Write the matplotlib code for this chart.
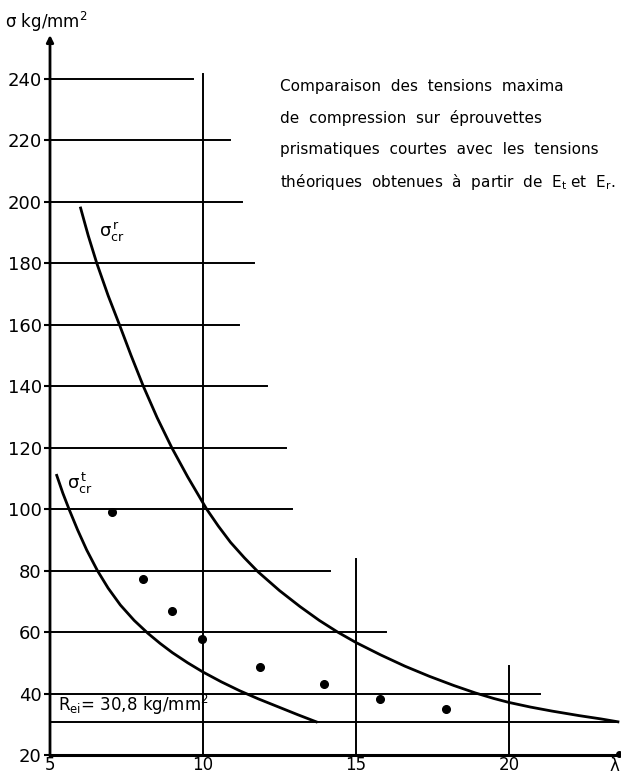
import numpy as np
import matplotlib
matplotlib.use("Agg")
import matplotlib.pyplot as plt

plt.rcParams['font.family'] = ['DejaVu Sans']
plt.rcParams['mathtext.default'] = 'regular'

# reduced modulus curve (sigma_cr^r)
lam_r = [6.0, 6.25, 6.53, 6.9, 7.27, 7.65, 8.05, 8.5, 8.98, 9.5, 10.12,
         10.5, 10.9, 11.35, 11.8, 12.5, 13.17, 13.8, 14.4, 15.0, 15.8,
         16.6, 17.4, 18.2, 18.9, 19.5, 20.0, 20.7, 21.4, 22.3, 23.0, 23.56]
sig_r = [198, 189, 180, 169.5, 160, 150.0, 140, 129.8, 120, 110.5, 100,
         94.5, 89.2, 84.2, 79.6, 73.5, 68.3, 63.8, 60, 56.6, 52.6,
         48.9, 45.6, 42.6, 40.2, 38.4, 37.1, 35.6, 34.3, 32.8, 31.75, 30.8]

# tangent modulus curve (sigma_cr^t)
lam_t = [5.22, 5.42, 5.63, 5.9, 6.2, 6.55, 6.9, 7.3, 7.75, 8.2, 8.6, 9.0,
         9.5, 10.0, 10.6, 11.2, 11.8, 12.5, 13.1, 13.7]
sig_t = [111, 105.2, 99.8, 93.3, 86.7, 80, 74.3, 68.8, 63.8, 59.6, 56.3, 53.3,
         50.0, 47.0, 43.8, 40.9, 38.3, 35.5, 33.1, 30.8]

# test results on short prismatic specimens
lam_test = [7.03, 8.04, 8.99, 9.97, 11.86, 13.95, 15.8, 17.94]
sig_test = [99.1, 77.3, 66.9, 57.7, 48.6, 43.1, 38.2, 35.0]

R_ei = 30.8

# horizontal rules: level and right end
h_levels = [240, 220, 200, 180, 160, 140, 120, 100, 80, 60, 40]
h_ends = [9.67, 10.88, 11.27, 11.67, 11.18, 12.08, 12.7, 12.9, 14.15, 15.98, 21.0]

# vertical rules: position and top
v_pos = [10, 15, 20]
v_tops = [241.6, 83.8, 49.0]

y_ticks = [20, 40, 60, 80, 100, 120, 140, 160, 180, 200, 220, 240]
x_ticks = [5, 10, 15, 20]

W, H = 621, 774
fig = plt.figure(figsize=(W / 100, H / 100), dpi=100)
ax = fig.add_axes([50 / W, 19 / H, 571 / W, 720 / H])
ax.set_xlim(5, 23.66)
ax.set_ylim(20, 254.3)

lw_grid = 1.4
for lev, end in zip(h_levels, h_ends):
    ax.plot([5, end], [lev, lev], color='black', lw=lw_grid)
ax.plot([5, lam_r[-1]], [R_ei, R_ei], color='black', lw=lw_grid)
for xp, top in zip(v_pos, v_tops):
    ax.plot([xp, xp], [20, top], color='black', lw=lw_grid)

ax.plot(lam_r, sig_r, color='black', lw=2.0, solid_joinstyle='round')
ax.plot(lam_t, sig_t, color='black', lw=2.0, solid_joinstyle='round')
ax.plot(lam_test, sig_test, 'o', color='black', ms=5.5)

# axes drawn by hand
for s in ax.spines.values():
    s.set_visible(False)
ax.annotate('', xy=(5, 254.3), xytext=(5, 19.6),
            arrowprops=dict(arrowstyle='-|>', lw=2, color='black',
                            mutation_scale=10, shrinkA=0, shrinkB=0),
            annotation_clip=False)
ax.plot([5, 23.66], [20, 20], color='black', lw=2.2, clip_on=False)
ax.plot([23.6], [20.4], 'o', color='black', ms=4, clip_on=False)

ax.set_yticks(y_ticks)
ax.set_xticks(x_ticks)
ax.tick_params(axis='y', direction='out', length=4, width=1.5, pad=2,
               labelsize=13)
ax.tick_params(axis='x', length=0, pad=1, labelsize=12)
ax.text(23.43, 19.4, 'λ', ha='center', va='top', fontsize=12)

fig.text(5 / W, 1 - 22 / H, 'σ kg/mm$^2$', fontsize=12, va='center')

ax.text(6.6, 190, r'$\sigma_{cr}^{\,r}$', fontsize=13, va='center')
ax.text(5.55, 108.5, r'$\sigma_{cr}^{\,t}$', fontsize=13, va='center')
ax.text(5.25, 36.3, 'R$_{ei}$= 30,8 kg/mm$^2$', fontsize=12, va='center')

note = ['Comparaison  des  tensions  maxima',
        'de  compression  sur  éprouvettes',
        'prismatiques  courtes  avec  les  tensions',
        'théoriques  obtenues  à  partir  de  E$_t$ et  E$_r$.']
for line, yy in zip(note, [237.4, 227.3, 216.9, 206.5]):
    ax.text(12.52, yy, line, fontsize=11, va='center')

fig.savefig('out.png', dpi=100)
